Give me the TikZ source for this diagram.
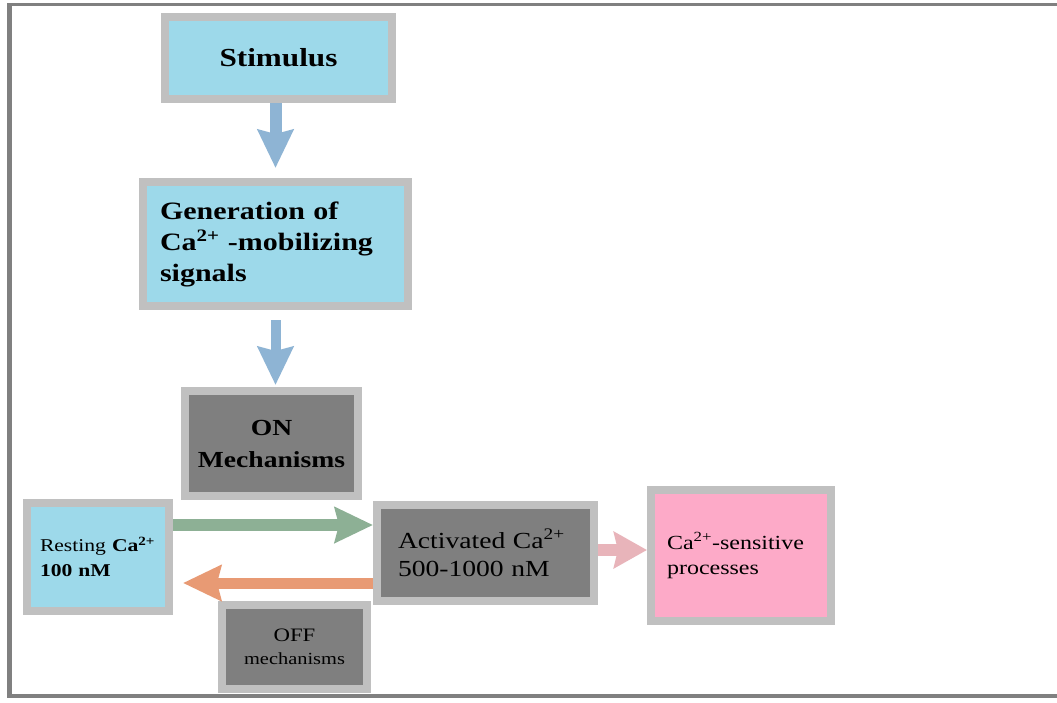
\documentclass[tikz,border=0pt]{standalone}
\usepackage{fontspec}
\setmainfont{Liberation Serif}[FakeStretch=1.2]
\usetikzlibrary{arrows.meta,calc}
\definecolor{boxgray}{HTML}{C0C0C0}
\definecolor{lblue}{HTML}{9DD9EA}
\definecolor{dgray}{HTML}{7F7F7F}
\definecolor{pinkbox}{HTML}{FDAAC8}
\definecolor{arrblue}{HTML}{8EB4D4}
\definecolor{arrgreen}{HTML}{8DB095}
\definecolor{arrorange}{HTML}{E89A74}
\definecolor{arrpink}{HTML}{E8B4BA}
\definecolor{framegray}{HTML}{808080}
\tikzset{
  box/.style={draw=boxgray, line width=8pt, inner xsep=0pt, inner ysep=0pt, text=black},
  fatarrow/.style={line width=#1, -{Stealth[length=38pt,width=35pt,inset=4pt]}},
}
\begin{document}
\begin{tikzpicture}[x=1pt,y=-1pt]
\useasboundingbox (0,0) rectangle (1057,702);
\fill[white] (0,0) rectangle (1057,702);
% frame
\draw[framegray, line width=3pt] (1057,4.5) -- (9.5,4.5);
\draw[framegray, line width=5pt] (9.5,3) -- (9.5,698);
\draw[framegray, line width=4pt] (7,696) -- (1057,696);

\node[box, fill=lblue, minimum width=227pt, minimum height=82pt, align=center,
      font=\fontsize{26}{30}\selectfont\bfseries] (stim) at (278.5,58) {Stimulus};
\node[box, fill=lblue, minimum width=265pt, minimum height=124pt, text width=231pt, align=left,
      font=\fontsize{25}{31}\selectfont\bfseries] (gen) at (275.5,244)
      {Generation of\\Ca\textsuperscript{2+} -mobilizing\\signals};
\node[box, fill=dgray, minimum width=173pt, minimum height=105pt, align=center,
      font=\fontsize{23}{32}\selectfont\bfseries] (on) at (271.5,443.5) {ON\\Mechanisms};
\node[box, fill=lblue, minimum width=142pt, minimum height=108pt, text width=116pt, align=left,
      font=\fontsize{18}{25}\selectfont] (rest) at (98,557)
      {Resting \textbf{Ca\textsuperscript{2+}}\\\textbf{100 nM}};
\node[box, fill=dgray, minimum width=217pt, minimum height=96pt, text width=175pt, align=left,
      font=\fontsize{23}{28}\selectfont] (act) at (485.5,553)
      {Activated Ca\textsuperscript{2+}\\500-1000 nM};
\node[box, fill=pinkbox, minimum width=180pt, minimum height=131pt, text width=148pt, align=left,
      font=\fontsize{20}{25}\selectfont] (sens) at (741,555.5)
      {Ca\textsuperscript{2+}-sensitive\\processes};
\node[box, fill=dgray, minimum width=145pt, minimum height=84pt, align=center,
      font=\fontsize{17}{23}\selectfont] (off) at (294.5,647)
      {{\fontsize{19}{23}\selectfont OFF}\\mechanisms};

% arrows
\draw[arrblue, fatarrow=12pt, shorten >=10pt] ([xshift=-3pt]stim.south) -- (gen.north);
\draw[arrblue, fatarrow=10pt, shorten <=10pt, shorten >=2pt] (gen.south) -- (gen.south |- on.north);
\draw[arrgreen, fatarrow=12pt] ([yshift=32pt]rest.east) -- ([yshift=28pt]act.west);
\draw[arrorange, fatarrow=11pt, shorten >=10pt] ([yshift=-30pt]act.west) -- ([yshift=-26pt]rest.east);
\draw[arrpink, fatarrow=12pt, -{Stealth[length=33pt,width=36pt,inset=4pt]}] ([yshift=3pt]act.east) -- ([yshift=5.5pt]sens.west);
\end{tikzpicture}
\end{document}
